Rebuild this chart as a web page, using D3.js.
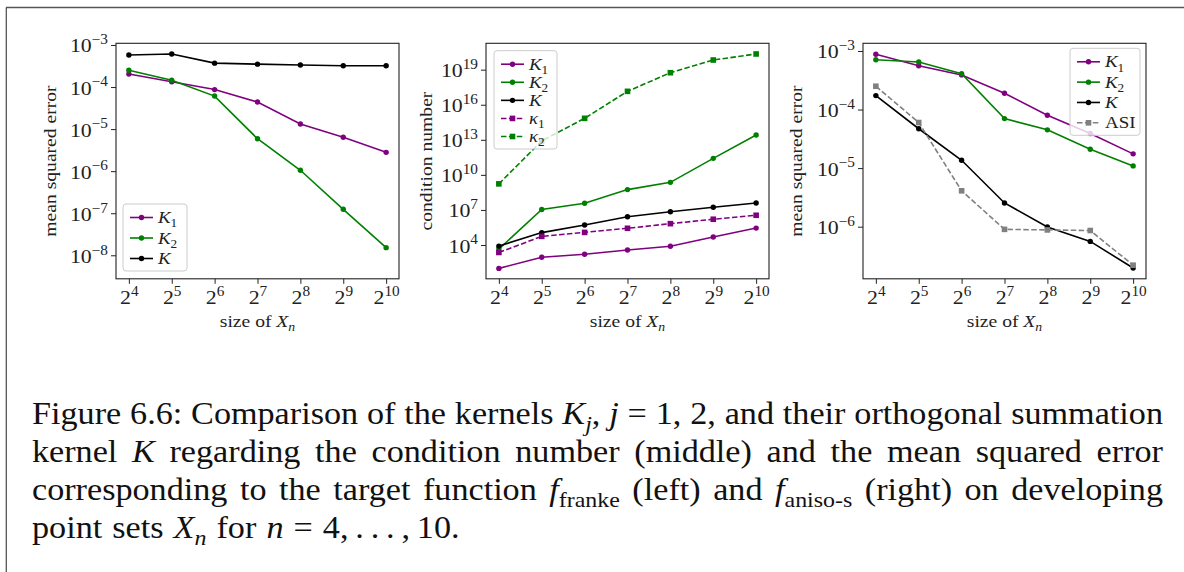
<!DOCTYPE html>
<html>
<head>
<meta charset="utf-8">
<script src="https://cdn.jsdelivr.net/npm/d3@7"></script>
<style>
  html, body { margin: 0; padding: 0; background: #fff; }
  svg { display: block; }
</style>
</head>
<body>
<svg id="fig" width="1184" height="572"></svg>
<script>
// ---- data -------------------------------------------------------------
// point sets X_n have size 2^n
const exponents = [4, 5, 6, 7, 8, 9, 10];

// left: mean squared error for f_franke
const frankeK1 = [2.05e-4, 1.34e-4, 8.7e-5, 4.4e-5, 1.32e-5, 6.4e-6, 2.8e-6];
const frankeK2 = [2.5e-4, 1.45e-4, 6.1e-5, 5.9e-6, 1.05e-6, 1.24e-7, 1.52e-8];
const frankeK  = [5.8e-4, 6.1e-4, 3.7e-4, 3.5e-4, 3.35e-4, 3.2e-4, 3.2e-4];

// middle: condition numbers
const condK1     = [1.0e2, 8.9e2, 1.6e3, 3.7e3, 7.8e3, 4.8e4, 2.8e5];
const condK2     = [4.5e3, 1.1e7, 3.7e7, 5.5e8, 2.3e9, 2.6e11, 2.6e13];
const condK      = [8.1e3, 1.15e5, 5.1e5, 2.6e6, 7.1e6, 1.7e7, 3.9e7];
const condKappa1 = [2.3e3, 5.5e4, 1.2e5, 2.7e5, 6.7e5, 1.6e6, 3.5e6];
const condKappa2 = [1.7e9, 8.0e12, 6.9e14, 1.4e17, 5.5e18, 6.7e19, 2.2e20];

// right: mean squared error for f_aniso-s
const anisoK1  = [8.8e-4, 5.6e-4, 3.9e-4, 1.9e-4, 8.0e-5, 3.9e-5, 1.75e-5];
const anisoK2  = [7.1e-4, 6.5e-4, 4.1e-4, 7.0e-5, 4.5e-5, 2.1e-5, 1.09e-5];
const anisoK   = [1.73e-4, 4.7e-5, 1.36e-5, 2.54e-6, 9.9e-7, 5.6e-7, 1.97e-7];
const anisoASI = [2.5e-4, 6.0e-5, 4.1e-6, 9.0e-7, 8.8e-7, 8.6e-7, 2.2e-7];

// y tick exponents (powers of ten)
const mseFrankeTicks = [-8, -7, -6, -5, -4, -3];
const condTicks      = [4, 7, 10, 13, 16, 19];
const mseAnisoTicks  = [-6, -5, -4, -3];

// ---- styling ----------------------------------------------------------
const FONT = "'Liberation Serif', 'DejaVu Serif', serif";
const STRETCH = 1.12;   // widen the serif glyphs a little
const PURPLE = "#800080", GREEN = "#008000", BLACK = "#000000", GRAY = "#808080";

const svg = d3.select("#fig").attr("font-family", FONT);

// frame around the figure block
svg.append("line").attr("x1", 6).attr("x2", 1184).attr("y1", 7.5).attr("y2", 7.5)
  .attr("stroke", "#555").attr("stroke-width", 1.3);
svg.append("line").attr("x1", 6.3).attr("x2", 6.3).attr("y1", 7.5).attr("y2", 572)
  .attr("stroke", "#555").attr("stroke-width", 1.3);

// append styled runs to a text element: r roman, i italic, si/sr subscript, sup superscript
function addRuns(sel, runs, size) {
  let shift = 0;
  sel.attr("font-family", FONT);
  runs.forEach(r => {
    const ts = sel.append("tspan").text(r.t);
    const sub = r.s === "si" || r.s === "sr";
    const sup = r.s === "sup";
    const target = sub ? 0.24 * size : sup ? -0.42 * size : 0;
    if (target !== shift) { ts.attr("dy", target - shift); shift = target; }
    if (sub || sup) ts.attr("font-size", size * 0.7);
    if (r.s === "i" || r.s === "si") ts.attr("font-style", "italic");
  });
  return sel;
}

// stretch a text element horizontally by the given factor, returns new width
function widen(sel, factor) {
  const w = sel.node().getComputedTextLength();
  sel.attr("textLength", w * factor).attr("lengthAdjust", "spacingAndGlyphs");
  return w * factor;
}

function seriesLabel(name) {
  if (name === "K1") return [{t: "K", s: "i"}, {t: "1", s: "sr"}];
  if (name === "K2") return [{t: "K", s: "i"}, {t: "2", s: "sr"}];
  if (name === "K")  return [{t: "K", s: "i"}];
  if (name === "k1") return [{t: "\u03BA", s: "i"}, {t: "1", s: "sr"}];
  if (name === "k2") return [{t: "\u03BA", s: "i"}, {t: "2", s: "sr"}];
  return [{t: name, s: "r"}];
}

const TOP = 43.3, BOTTOM = 278.8, WIDTH = 283;
const TICK_SIZE = 19.5, LABEL_SIZE = 17.5, LEGEND_SIZE = 17.5;

const panels = [
  {
    left: 116, yLabel: "mean squared error", yLabelX: 55.5,
    logDomain: [-8.559, -2.96], ticks: mseFrankeTicks,
    series: [
      {name: "K1", values: frankeK1, color: PURPLE, dashed: false},
      {name: "K2", values: frankeK2, color: GREEN, dashed: false},
      {name: "K",  values: frankeK,  color: BLACK, dashed: false}
    ],
    legend: {x: 123, y: 204, w: 64, h: 67}
  },
  {
    left: 486, yLabel: "condition number", yLabelX: 432,
    logDomain: [1.109, 21.256], ticks: condTicks,
    series: [
      {name: "K1", values: condK1, color: PURPLE, dashed: false},
      {name: "K2", values: condK2, color: GREEN, dashed: false},
      {name: "K",  values: condK,  color: BLACK, dashed: false},
      {name: "k1", values: condKappa1, color: PURPLE, dashed: true},
      {name: "k2", values: condKappa2, color: GREEN, dashed: true}
    ],
    legend: {x: 494, y: 50.7, w: 63, h: 98.3}
  },
  {
    left: 863, yLabel: "mean squared error", yLabelX: 802,
    logDomain: [-6.89, -2.869], ticks: mseAnisoTicks,
    series: [
      {name: "K1",  values: anisoK1,  color: PURPLE, dashed: false},
      {name: "K2",  values: anisoK2,  color: GREEN, dashed: false},
      {name: "K",   values: anisoK,   color: BLACK, dashed: false},
      {name: "ASI", values: anisoASI, color: GRAY,  dashed: true}
    ],
    legend: {x: 1070, y: 48.3, w: 70, h: 87}
  }
];

function drawMarker(g, cx, cy, color, square) {
  if (square) {
    const s = 5.6;
    g.append("rect").attr("x", cx - s / 2).attr("y", cy - s / 2)
      .attr("width", s).attr("height", s).attr("fill", color);
  } else {
    g.append("circle").attr("cx", cx).attr("cy", cy).attr("r", 2.7).attr("fill", color);
  }
}

panels.forEach(p => {
  const g = svg.append("g");
  const x = d3.scaleLinear().domain([3.7, 10.3]).range([p.left, p.left + WIDTH]);
  const y = d3.scaleLog().domain([10 ** p.logDomain[0], 10 ** p.logDomain[1]]).range([BOTTOM, TOP]);

  // x axis
  const gx = g.append("g").attr("transform", `translate(0,${BOTTOM})`)
    .call(d3.axisBottom(x).tickValues(exponents).tickSize(5).tickFormat(""))
    .attr("font-family", FONT);
  gx.select(".domain").remove();
  gx.selectAll(".tick line").attr("stroke", "#222").attr("stroke-width", 1);
  gx.selectAll(".tick text").remove();
  gx.selectAll(".tick").each(function(n) {
    const t = d3.select(this).append("text").attr("y", 25).attr("text-anchor", "middle")
      .attr("fill", "#222").attr("font-size", TICK_SIZE);
    addRuns(t, [{t: "2", s: "r"}, {t: String(n), s: "sup"}], TICK_SIZE);
    widen(t, STRETCH);
  });

  // y axis
  const gy = g.append("g").attr("transform", `translate(${p.left},0)`)
    .call(d3.axisLeft(y).tickValues(p.ticks.map(e => 10 ** e)).tickSize(5).tickFormat(""))
    .attr("font-family", FONT);
  gy.select(".domain").remove();
  gy.selectAll(".tick line").attr("stroke", "#222").attr("stroke-width", 1);
  gy.selectAll(".tick text").remove();
  gy.selectAll(".tick").each(function(v) {
    const e = Math.round(Math.log10(v));
    const t = d3.select(this).append("text").attr("x", -8).attr("y", 7)
      .attr("text-anchor", "end").attr("fill", "#222").attr("font-size", TICK_SIZE);
    addRuns(t, [{t: "10", s: "r"}, {t: String(e).replace("-", "\u2212"), s: "sup"}], TICK_SIZE);
    widen(t, STRETCH);
  });

  // series
  const line = d3.line().x(d => x(d.n)).y(d => y(d.v));
  p.series.forEach(s => {
    const pts = exponents.map((n, i) => ({n, v: s.values[i]}));
    g.append("path").datum(pts).attr("d", line).attr("fill", "none")
      .attr("stroke", s.color).attr("stroke-width", 1.6)
      .attr("stroke-dasharray", s.dashed ? "5.5,2.4" : null);
    pts.forEach(d => drawMarker(g, x(d.n), y(d.v), s.color, s.dashed));
  });

  // axes box
  g.append("rect").attr("x", p.left).attr("y", TOP).attr("width", WIDTH).attr("height", BOTTOM - TOP)
    .attr("fill", "none").attr("stroke", "#222").attr("stroke-width", 1.1);

  // axis labels
  const yl = g.append("text").attr("transform", `translate(${p.yLabelX},${(TOP + BOTTOM) / 2}) rotate(-90)`)
    .attr("text-anchor", "middle").attr("fill", "#222").attr("font-size", LABEL_SIZE);
  addRuns(yl, [{t: p.yLabel, s: "r"}], LABEL_SIZE);
  widen(yl, STRETCH);
  const xl = g.append("text").attr("x", p.left + WIDTH / 2).attr("y", 327)
    .attr("text-anchor", "middle").attr("fill", "#222").attr("font-size", LABEL_SIZE);
  addRuns(xl, [{t: "size of ", s: "r"}, {t: "X", s: "i"}, {t: "n", s: "si"}], LABEL_SIZE);
  widen(xl, STRETCH);

  // legend
  const L = p.legend;
  const lg = g.append("g");
  lg.append("rect").attr("x", L.x).attr("y", L.y).attr("width", L.w).attr("height", L.h)
    .attr("rx", 3).attr("fill", "#fff").attr("fill-opacity", 0.8)
    .attr("stroke", "#ccc").attr("stroke-width", 1);
  const step = (L.h - 26) / (p.series.length - 1 || 1);
  p.series.forEach((s, i) => {
    const cy = L.y + 13.5 + i * step;
    const x0 = L.x + 7, x1 = L.x + 30;
    lg.append("line").attr("x1", x0).attr("x2", x1).attr("y1", cy).attr("y2", cy)
      .attr("stroke", s.color).attr("stroke-width", 1.6)
      .attr("stroke-dasharray", s.dashed ? "5.5,2.4" : null);
    drawMarker(lg, (x0 + x1) / 2, cy, s.color, s.dashed);
    const t = lg.append("text").attr("x", x1 + 5).attr("y", cy + 5.5)
      .attr("fill", "#222").attr("font-size", LEGEND_SIZE);
    addRuns(t, seriesLabel(s.name), LEGEND_SIZE);
    widen(t, 1.08);
  });
});

// ---- caption ----------------------------------------------------------
const captionLines = [
  "Figure 6.6: Comparison of the kernels {i:K}{si:j}, {i:j} = 1, 2, and their orthogonal summation",
  "kernel {i:K} regarding the condition number (middle) and the mean squared error",
  "corresponding to the target function {i:f}{sr:franke} (left) and {i:f}{sr:aniso-s} (right) on developing",
  "point sets {i:X}{si:n} for {i:n} = 4,\u2009.\u2009.\u2009.\u2009,\u200910."
];
const CAP_SIZE = 30.5, CAP_LEFT = 32, CAP_RIGHT = 1163;
const capBase = [424, 462, 500, 538];

function parseWord(w) {
  const runs = [];
  const re = /\{(\w+):([^}]*)\}|([^{]+)/g;
  let m;
  while ((m = re.exec(w)) !== null) {
    if (m[1]) runs.push({t: m[2], s: m[1]});
    else runs.push({t: m[3], s: "r"});
  }
  return runs;
}

captionLines.forEach((ln, li) => {
  const words = ln.split(" ");
  const nodes = words.map(w => {
    const t = svg.append("text").attr("y", capBase[li]).attr("font-size", CAP_SIZE).attr("fill", "#111");
    addRuns(t, parseWord(w), CAP_SIZE);
    return t;
  });
  const widths = nodes.map(t => widen(t, STRETCH));
  const total = d3.sum(widths);
  const justify = li < captionLines.length - 1;
  const gap = justify ? (CAP_RIGHT - CAP_LEFT - total) / (words.length - 1) : 0.33 * CAP_SIZE;
  let cx = CAP_LEFT;
  nodes.forEach((t, i) => { t.attr("x", cx); cx += widths[i] + gap; });
});
</script>
</body>
</html>
